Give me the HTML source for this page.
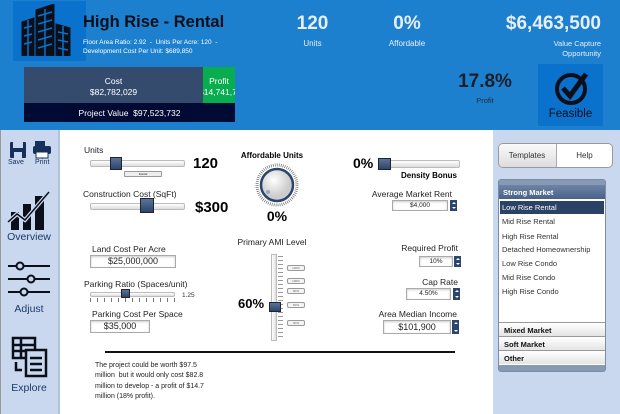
<!DOCTYPE html>
<html><head><style>
*{margin:0;padding:0;box-sizing:border-box}
body{width:620px;height:414px;position:relative;overflow:hidden;font-family:"Liberation Sans",sans-serif;background:#fff}
.a{position:absolute}
.hdr{left:0;top:0;width:620px;height:130px;background:#1c80cf}
.w{color:#e8eef8}
.lbl{font-size:8.5px;color:#222}
.inp{position:absolute;border:1px solid #aaa;background:#fff;text-align:center;color:#222;box-shadow:inset 0 1px 2px #ccc}
.track{position:absolute;border:1px solid #bbb;border-radius:2px;background:linear-gradient(#fff,#ddd)}
.thumb{position:absolute;background:linear-gradient(#5a7398,#2c456b);border:1px solid #223}
.spin{position:absolute;width:8px;background:#2c456b;border-left:1px solid #fff}
.spin:before,.spin:after{content:"";position:absolute;left:2px;border-left:2px solid transparent;border-right:2px solid transparent}
.spin:before{top:2px;border-bottom:2px solid #fff}
.spin:after{bottom:2px;border-top:2px solid #fff}
.item{position:absolute;left:502px;font-size:7.5px;color:#333}
.sec{position:absolute;left:499px;width:106px;height:14px;background:linear-gradient(#fff,#e4e4e4);border-top:1px solid #999;font-size:7.5px;font-weight:bold;padding:3px 5px;color:#111}
.tb{position:absolute;width:18px;height:6px;border:1px solid #999;border-radius:2px;background:#f4f4f4;font-size:3px;text-align:center;color:#666;left:287px}
</style></head><body>
<div class="a hdr"></div>
<div class="a" style="left:13px;top:1px;width:73px;height:60px;background:#0a72cc"></div>
<svg class="a" style="left:18px;top:4px" width="56" height="52" viewBox="0 0 56 52">
<g fill="#0b0f1a" stroke="#0b0f1a">
<polygon points="18,6 36,0 36,52 18,52"/>
<polygon points="4,18 16,14 16,52 4,52"/>
<polygon points="38,20 52,24 52,52 38,52"/>
</g>
<g stroke="#0a72cc" stroke-width="1.5">
<line x1="20" y1="12" x2="34" y2="8"/><line x1="20" y1="20" x2="34" y2="16"/><line x1="20" y1="28" x2="34" y2="24"/><line x1="20" y1="36" x2="34" y2="32"/><line x1="20" y1="44" x2="34" y2="40"/><line x1="27" y1="5" x2="27" y2="52"/>
<line x1="6" y1="24" x2="14" y2="22"/><line x1="6" y1="32" x2="14" y2="30"/><line x1="6" y1="40" x2="14" y2="38"/><line x1="10" y1="16" x2="10" y2="52"/>
<line x1="40" y1="28" x2="50" y2="30"/><line x1="40" y1="36" x2="50" y2="38"/><line x1="40" y1="44" x2="50" y2="46"/><line x1="45" y1="22" x2="45" y2="52"/>
</g></svg>
<div class="a" style="left:83px;top:13px;font-size:16.5px;font-weight:bold;color:#0b0f1a">High Rise - Rental</div>
<div class="a w" style="left:83px;top:38px;font-size:6.5px;line-height:9px;color:#fff">Floor Area Ratio: 2.92 &nbsp;- &nbsp;Units Per Acre: 120 &nbsp;-<br>Development Cost Per Unit: $689,850</div>
<div class="a" style="left:24px;top:67px;width:179px;height:36px;background:#344b6e;color:#fff;font-size:8.5px;text-align:center;padding-top:9px;line-height:11px">Cost<br>$82,782,029</div>
<div class="a" style="left:203px;top:67px;width:32px;height:36px;background:#07ad4f;color:#fff;font-size:8.5px;text-align:center;padding-top:9px;line-height:11px;overflow:hidden;white-space:nowrap">Profit<br><span style="margin-left:-4px">$14,741,703</span></div>
<div class="a" style="left:24px;top:103px;width:211px;height:19px;background:#000a33;color:#fff;font-size:8.5px;text-align:center;padding-top:5px">Project Value &nbsp;$97,523,732</div>
<div class="a w" style="left:290px;top:13px;width:45px;text-align:center;font-size:19px;font-weight:bold">120</div>
<div class="a w" style="left:290px;top:39px;width:45px;text-align:center;font-size:8px">Units</div>
<div class="a w" style="left:380px;top:13px;width:54px;text-align:center;font-size:19px;font-weight:bold">0%</div>
<div class="a w" style="left:380px;top:39px;width:54px;text-align:center;font-size:8px">Affordable</div>
<div class="a w" style="left:470px;top:13px;width:131px;text-align:right;font-size:19px;font-weight:bold">$6,463,500</div>
<div class="a w" style="left:480px;top:39px;width:121px;text-align:right;font-size:7.5px;line-height:10px">Value Capture<br>Opportunity</div>
<div class="a" style="left:450px;top:71px;width:70px;text-align:center;font-size:19px;font-weight:bold;color:#1a1f2a">17.8%</div>
<div class="a" style="left:450px;top:96px;width:70px;text-align:center;font-size:7.5px;color:#1a2a3a">Profit</div>
<div class="a" style="left:538px;top:64px;width:65px;height:62px;background:#0a72cc"></div>
<svg class="a" style="left:554px;top:70px" width="36" height="36" viewBox="0 0 36 36"><circle cx="17" cy="19" r="14" fill="none" stroke="#0b0f1a" stroke-width="4"/><polyline points="9,18 16,26 32,4" fill="none" stroke="#0b0f1a" stroke-width="5"/></svg>
<div class="a" style="left:538px;top:108px;width:65px;text-align:center;font-size:11.5px;color:#0b0f1a">Feasible</div>

<div class="a" style="left:0;top:130px;width:58px;height:284px;background:#c9d8ee;border-left:1px solid #999"></div>
<div class="a" style="left:493px;top:130px;width:127px;height:284px;background:#c9d8ee"></div>
<div class="a" style="left:58px;top:130px;width:2px;height:284px;background:#b0c4e0"></div>
<svg class="a" style="left:9px;top:141px" width="44" height="18" viewBox="0 0 44 18"><rect x="1" y="1" width="16" height="16" rx="1" fill="#16305a"/><rect x="4" y="1" width="10" height="6" fill="#c9d8ee"/><rect x="5" y="11" width="8" height="6" fill="#c9d8ee"/><rect x="26" y="0" width="10" height="5" fill="#16305a"/><rect x="24" y="5" width="18" height="8" rx="2" fill="#16305a"/><rect x="27" y="11" width="12" height="6" fill="#fff" stroke="#16305a"/></svg>
<div class="a" style="left:8px;top:159px;font-size:7px;color:#16305a">Save</div>
<div class="a" style="left:35px;top:159px;font-size:7px;color:#16305a">Print</div>
<svg class="a" style="left:7px;top:190px" width="44" height="40" viewBox="0 0 44 40"><rect x="4" y="22" width="8" height="18" fill="#0b0f1a"/><rect x="16" y="14" width="8" height="26" fill="#0b0f1a"/><rect x="28" y="6" width="9" height="34" fill="#0b0f1a"/><polyline points="1,32 10,24 18,30 42,2" fill="none" stroke="#c9d8ee" stroke-width="4"/><polyline points="1,32 10,24 18,30 42,2" fill="none" stroke="#0b0f1a" stroke-width="1.5"/></svg>
<div class="a" style="left:0;top:231px;width:58px;text-align:center;font-size:10.5px;color:#1a3a6a">Overview</div>
<svg class="a" style="left:7px;top:260px" width="44" height="38" viewBox="0 0 44 38"><g stroke="#0b0f1a" stroke-width="2" fill="#c9d8ee"><line x1="1" y1="6" x2="43" y2="6"/><line x1="1" y1="19" x2="43" y2="19"/><line x1="1" y1="32" x2="43" y2="32"/><circle cx="13" cy="6" r="3.5"/><circle cx="24" cy="19" r="3.5"/><circle cx="17" cy="32" r="3.5"/></g></svg>
<div class="a" style="left:0;top:303px;width:58px;text-align:center;font-size:10.5px;color:#1a3a6a">Adjust</div>
<svg class="a" style="left:11px;top:336px" width="38" height="42" viewBox="0 0 38 42"><g fill="none" stroke="#0b0f1a" stroke-width="2.5"><rect x="2" y="2" width="22" height="20"/><line x1="2" y1="9" x2="24" y2="9"/><line x1="2" y1="15" x2="24" y2="15"/><line x1="10" y1="2" x2="10" y2="22"/><rect x="15" y="14" width="20" height="26" fill="#c9d8ee"/><line x1="19" y1="22" x2="31" y2="22"/><line x1="19" y1="28" x2="31" y2="28"/><line x1="19" y1="34" x2="31" y2="34"/><path d="M5 26 v8 h6"/></g></svg>
<div class="a" style="left:0;top:382px;width:58px;text-align:center;font-size:10.5px;color:#1a3a6a">Explore</div>

<div class="a lbl" style="left:84px;top:145px">Units</div>
<div class="track" style="left:90px;top:160px;width:95px;height:7px"></div>
<div class="thumb" style="left:110px;top:157px;width:12px;height:13px"></div>
<div class="a" style="left:124px;top:171px;width:38px;height:6px;border:1px solid #999;border-radius:1px;background:#eee;font-size:3px;text-align:center">Kontol</div>
<div class="a" style="left:193px;top:155px;font-size:15px;font-weight:bold">120</div>
<div class="a lbl" style="left:83px;top:189px">Construction Cost (SqFt)</div>
<div class="track" style="left:90px;top:203px;width:95px;height:7px"></div>
<div class="thumb" style="left:140px;top:198px;width:14px;height:15px"></div>
<div class="a" style="left:195px;top:199px;font-size:15px;font-weight:bold">$300</div>

<div class="a" style="left:232px;top:151px;width:80px;text-align:center;font-size:8px;font-weight:bold">Affordable Units</div>
<svg class="a" style="left:255px;top:163px" width="44" height="44" viewBox="0 0 44 44">
<circle cx="22" cy="22" r="20" fill="none" stroke="#555" stroke-width="3" stroke-dasharray="0.6 1.4"/>
<defs><radialGradient id="g" cx="0.4" cy="0.35"><stop offset="0" stop-color="#fff"/><stop offset="1" stop-color="#ccc"/></radialGradient></defs>
<circle cx="22" cy="22" r="16" fill="url(#g)" stroke="#2c456b" stroke-width="2.5"/>
<circle cx="13" cy="29" r="2" fill="#9ab"/></svg>
<div class="a" style="left:252px;top:208px;width:50px;text-align:center;font-size:14px;font-weight:bold">0%</div>

<div class="a" style="left:353px;top:155px;font-size:14px;font-weight:bold">0%</div>
<div class="track" style="left:378px;top:160px;width:82px;height:8px"></div>
<div class="thumb" style="left:378px;top:158px;width:13px;height:12px"></div>
<div class="a" style="left:390px;top:171px;width:78px;text-align:center;font-size:8px;font-weight:bold">Density Bonus</div>
<div class="a lbl" style="left:360px;top:189px;width:92px;text-align:right">Average Market Rent</div>
<div class="inp" style="left:392px;top:200px;width:56px;height:11px;font-size:6.5px;line-height:9px">$4,000</div>
<div class="spin" style="left:449px;top:200px;height:11px"></div>

<div class="a lbl" style="left:92px;top:244px">Land Cost Per Acre</div>
<div class="inp" style="left:90px;top:255px;width:86px;height:13px;font-size:9px;line-height:11px">$25,000,000</div>
<div class="a lbl" style="left:84px;top:279px">Parking Ratio (Spaces/unit)</div>
<div class="track" style="left:90px;top:292px;width:85px;height:5px"></div>
<div class="thumb" style="left:121px;top:289px;width:9px;height:9px"></div>
<div class="a" style="left:90px;top:298px;width:85px;height:4px;background:repeating-linear-gradient(90deg,#777 0 1px,transparent 1px 7px)"></div>
<div class="a" style="left:182px;top:292px;font-size:6.5px;color:#333">1.25</div>
<div class="a lbl" style="left:92px;top:309px">Parking Cost Per Space</div>
<div class="inp" style="left:90px;top:320px;width:60px;height:13px;font-size:9px;line-height:11px">$35,000</div>

<div class="a lbl" style="left:232px;top:237px;width:80px;text-align:center">Primary AMI Level</div>
<div class="a" style="left:271px;top:254px;width:6px;height:87px;border:1px solid #bbb;background:linear-gradient(90deg,#fff,#ddd)"></div>
<div class="a" style="left:278px;top:256px;width:5px;height:84px;background:repeating-linear-gradient(#999 0 1px,transparent 1px 4px)"></div>
<div class="thumb" style="left:269px;top:302px;width:12px;height:10px"></div>
<div class="a" style="left:238px;top:296px;font-size:13px;font-weight:bold">60%</div>
<div class="tb" style="top:265px">120%</div><div class="tb" style="top:278px">100%</div><div class="tb" style="top:288px">80%</div><div class="tb" style="top:302px">60%</div><div class="tb" style="top:320px">30%</div>

<div class="a lbl" style="left:380px;top:243px;width:78px;text-align:right">Required Profit</div>
<div class="inp" style="left:419px;top:256px;width:34px;height:11px;font-size:6.5px;line-height:9px">10%</div>
<div class="spin" style="left:453px;top:256px;height:11px"></div>
<div class="a lbl" style="left:380px;top:277px;width:78px;text-align:right">Cap Rate</div>
<div class="inp" style="left:406px;top:288px;width:45px;height:12px;font-size:6.5px;line-height:10px">4.50%</div>
<div class="spin" style="left:452px;top:288px;height:12px"></div>
<div class="a lbl" style="left:370px;top:309px;width:87px;text-align:right">Area Median Income</div>
<div class="inp" style="left:383px;top:320px;width:68px;height:14px;font-size:9px;line-height:12px">$101,900</div>
<div class="spin" style="left:451px;top:320px;height:14px"></div>

<div class="a" style="left:105px;top:351px;width:350px;height:2px;background:#111"></div>
<div class="a" style="left:95px;top:361px;font-size:7px;line-height:10.3px;color:#222">The project could be worth $97.5<br>million &nbsp;but it would only cost $82.8<br>million to develop - a profit of $14.7<br>million (18% profit).</div>

<div class="a" style="left:498px;top:143px;width:115px;height:25px;border:1px solid #999;border-radius:5px;background:#fff;overflow:hidden"><div style="width:58px;height:100%;background:linear-gradient(#fafafa,#ddd);border-right:1px solid #aaa"></div></div>
<div class="a" style="left:498px;top:151px;width:58px;text-align:center;font-size:8px;color:#333">Templates</div>
<div class="a" style="left:556px;top:151px;width:57px;text-align:center;font-size:8px;color:#333">Help</div>
<div class="a" style="left:498px;top:179px;width:108px;height:193px;background:#fff;border:1px solid #7b8ca6;border-radius:3px"></div>
<div class="a" style="left:499px;top:180px;width:106px;height:5px;background:#8899b3"></div>
<div class="a" style="left:499px;top:185px;width:106px;height:14px;background:linear-gradient(#6d84a6,#4a6288);color:#fff;font-size:7.5px;font-weight:bold;padding:3px 4px">Strong Market</div>
<div class="a" style="left:500px;top:201px;width:104px;height:13px;background:#2b4266"></div>
<div class="item" style="top:203px;color:#fff">Low Rise Rental</div>
<div class="item" style="top:217px">Mid Rise Rental</div>
<div class="item" style="top:232px">High Rise Rental</div>
<div class="item" style="top:245px">Detached Homeownership</div>
<div class="item" style="top:259px">Low Rise Condo</div>
<div class="item" style="top:273px">Mid Rise Condo</div>
<div class="item" style="top:287px">High Rise Condo</div>
<div class="sec" style="top:322px">Mixed Market</div>
<div class="sec" style="top:336px">Soft Market</div>
<div class="sec" style="top:350px">Other</div>
<div class="a" style="left:499px;top:365px;width:106px;height:6px;background:#8899b3"></div>
</body></html>
